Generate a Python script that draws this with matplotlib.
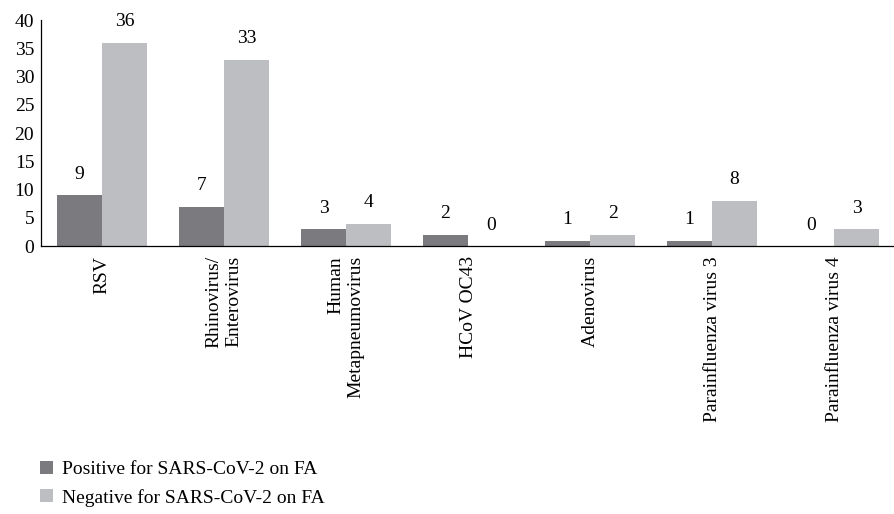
import numpy as np
import matplotlib.pyplot as plt

plt.rcParams['font.family'] = ['Liberation Serif', 'DejaVu Serif']

# --Datos
viruses = ['RSV', 'Rhinovirus/\nEnterovirus', 'Human\nMetapneumovirus', 'HCoV OC43',
           'Adenovirus', 'Parainfluenza virus 3', 'Parainfluenza virus 4']
positive = [9, 7, 3, 2, 1, 1, 0]
negative = [36, 33, 4, 0, 2, 8, 3]
series = ['Positive for SARS-CoV-2 on FA', 'Negative for SARS-CoV-2 on FA']
colors = ['#7b7b7f', '#bdbec1']

fig = plt.figure(figsize=(8.95, 5.14), dpi=100)
ax = fig.add_axes([0.046, 0.521, 0.954, 0.44])

x = np.arange(len(viruses))
w = 0.37
b1 = ax.bar(x - w / 2, positive, w, color=colors[0], label=series[0])
b2 = ax.bar(x + w / 2, negative, w, color=colors[1], label=series[1])

# --Etiquetas de valores
for bars in (b1, b2):
    for r in bars:
        ax.annotate(str(int(r.get_height())), (r.get_x() + r.get_width() / 2, r.get_height()),
                    xytext=(0, 9), textcoords='offset points', ha='center', va='bottom',
                    fontsize=14)

ax.set_xlim(-0.5, len(viruses) - 0.5)
ax.set_ylim(0, 40)
ax.set_yticks(range(0, 41, 5))
ax.set_xticks(x)
ax.set_xticklabels(viruses, rotation=90, ha='center', va='top', multialignment='right')
ax.tick_params(axis='both', length=0, labelsize=14, pad=7)
ax.tick_params(axis='y', pad=5)
for s in ['top', 'right']:
    ax.spines[s].set_visible(False)
for s in ['left', 'bottom']:
    ax.spines[s].set_linewidth(0.9)

fig.legend(loc='lower left', bbox_to_anchor=(0.025, -0.02), frameon=False, fontsize=14,
           handlelength=0.65, handleheight=0.65, handletextpad=0.5, labelspacing=0.55)

plt.savefig('out.png', dpi=100)
